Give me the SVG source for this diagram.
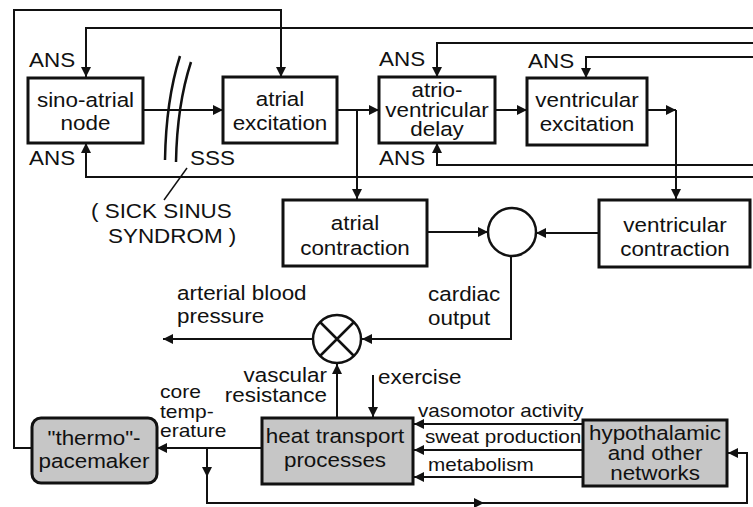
<svg xmlns="http://www.w3.org/2000/svg" width="753" height="507" viewBox="0 0 753 507">
  <style>
    .box { fill: #ffffff; stroke: #111111; stroke-width: 3; }
    .gbox { fill: #c6c6c6; stroke: #111111; stroke-width: 3; }
    .wire { fill: none; stroke: #111111; stroke-width: 2; }
    .arr { marker-end: url(#ah); }
    .t { font-family: "Liberation Sans", Arial, sans-serif; font-size: 19.5px; fill: #111111; }
    .s { font-size: 18px; }
    .xs { font-size: 17.5px; }
    .c { text-anchor: middle; }
    .e { text-anchor: end; }
  </style>
  <defs>
    <marker id="ah" viewBox="0 0 10 10" refX="10" refY="5" markerWidth="12" markerHeight="10" markerUnits="userSpaceOnUse" orient="auto">
      <path d="M0,0 L10,5 L0,10 z" fill="#111111"/>
    </marker>
  </defs>
  <rect width="753" height="507" fill="#ffffff"/>

  <!-- connectors -->
  <g id="connectors">
    <path class="wire arr" d="M32,448 H14 V10 H281 V77"/>
    <path class="wire arr" d="M753,28 H86 V77"/>
    <path class="wire arr" d="M753,43 H437 V77"/>
    <path class="wire arr" d="M753,57 H586 V78"/>
    <path class="wire arr" d="M753,165 H437 V143"/>
    <path class="wire arr" d="M753,177 H86 V143"/>
    <path class="wire arr" d="M143,110 H223"/>
    <path class="wire arr" d="M337,110 H379"/>
    <path class="wire arr" d="M357,110 V199"/>
    <path class="wire arr" d="M495,110 H527"/>
    <path class="wire arr" d="M647,110 H676"/>
    <path class="wire arr" d="M676,110 V199"/>
    <path class="wire arr" d="M427,232 H488"/>
    <path class="wire arr" d="M599,233 H536"/>
    <path class="wire arr" d="M511,256 V339 H362"/>
    <path class="wire arr" d="M313,339 H163"/>
    <path class="wire" d="M412,424 H337"/>
    <path class="wire arr" d="M337,424 V364"/>
    <path class="wire arr" d="M373,375 V417"/>
    <path class="wire arr" d="M583,424 H414"/>
    <path class="wire arr" d="M583,450 H414"/>
    <path class="wire arr" d="M583,477 H414"/>
    <path class="wire arr" d="M262,448 H157"/>
    <path class="wire arr" d="M207,448 V477"/>
    <path class="wire arr" d="M207,470 V503 H484"/>
    <path class="wire arr" d="M480,503 H747 V453 H728"/>
    <!-- sick sinus block marks and leader -->
    <path class="wire" style="stroke-width:2.5" d="M180,56 Q166,100 165,160"/>
    <path class="wire" style="stroke-width:2.5" d="M191,62 Q177,105 176,162"/>
    <path class="wire" style="stroke-width:1.5" d="M187,168 L164,200"/>
  </g>

  <g id="sino-atrial-node">
    <rect class="box" x="28" y="78" width="115" height="65"/>
    <text class="t c" transform="translate(85.5 107) scale(1.15 1)">sino-atrial<tspan x="0" dy="23.5">node</tspan></text>
  </g>
  <g id="atrial-excitation">
    <rect class="box" x="223" y="77" width="114" height="66"/>
    <text class="t c" transform="translate(280 106) scale(1.15 1)">atrial<tspan x="0" dy="24">excitation</tspan></text>
  </g>
  <g id="av-delay">
    <rect class="box" x="379" y="77" width="116" height="66"/>
    <text class="t c" transform="translate(437 97) scale(1.15 1)">atrio-<tspan x="0" dy="20">ventricular</tspan><tspan x="0" dy="19.5">delay</tspan></text>
  </g>
  <g id="ventricular-excitation">
    <rect class="box" x="527" y="78" width="120" height="67"/>
    <text class="t c" transform="translate(587 107) scale(1.15 1)">ventricular<tspan x="0" dy="24">excitation</tspan></text>
  </g>
  <g id="atrial-contraction">
    <rect class="box" x="283" y="200" width="144" height="66"/>
    <text class="t c" transform="translate(355 230) scale(1.15 1)">atrial<tspan x="0" dy="25">contraction</tspan></text>
  </g>
  <g id="ventricular-contraction">
    <rect class="box" x="599" y="200" width="151" height="67"/>
    <text class="t c" transform="translate(675 232) scale(1.15 1)">ventricular<tspan x="0" dy="24">contraction</tspan></text>
  </g>
  <g id="sum-junction">
    <circle cx="512" cy="232" r="24" fill="#ffffff" stroke="#111111" stroke-width="2.5"/>
  </g>
  <g id="product-junction">
    <circle cx="337" cy="339" r="24" fill="#ffffff" stroke="#111111" stroke-width="2.5"/>
    <path d="M320,322 L354,356 M354,322 L320,356" stroke="#111111" stroke-width="2.5"/>
  </g>
  <g id="thermo-pacemaker">
    <rect class="gbox" x="32" y="418" width="125" height="65" rx="9"/>
    <text class="t c" transform="translate(94 445) scale(1.15 1)">"thermo"-<tspan x="0" dy="23">pacemaker</tspan></text>
  </g>
  <g id="heat-transport">
    <rect class="gbox" x="262" y="418" width="151" height="66"/>
    <text class="t c" transform="translate(335 443) scale(1.15 1)">heat transport<tspan x="0" dy="24">processes</tspan></text>
  </g>
  <g id="hypothalamic-networks">
    <rect class="gbox" x="583" y="420" width="144" height="66"/>
    <text class="t c" transform="translate(655 440) scale(1.15 1)">hypothalamic<tspan x="0" dy="20">and other</tspan><tspan x="0" dy="20">networks</tspan></text>
  </g>

  <g id="labels">
    <text class="t" transform="translate(29 67) scale(1.15 1)">ANS</text>
    <text class="t" transform="translate(29 165) scale(1.15 1)">ANS</text>
    <text class="t" transform="translate(379 66) scale(1.15 1)">ANS</text>
    <text class="t" transform="translate(379 165) scale(1.15 1)">ANS</text>
    <text class="t" transform="translate(528 68) scale(1.15 1)">ANS</text>
    <text class="t" transform="translate(190 165) scale(1.15 1)">SSS</text>
    <text class="t" transform="translate(91 218) scale(1.15 1)">( SICK SINUS</text>
    <text class="t" transform="translate(108 243) scale(1.15 1)">SYNDROM )</text>
    <text class="t" transform="translate(177 300) scale(1.15 1)">arterial blood<tspan x="0" dy="23">pressure</tspan></text>
    <text class="t" transform="translate(428 301) scale(1.15 1)">cardiac<tspan x="0" dy="24">output</tspan></text>
    <text class="t e" transform="translate(327 382) scale(1.15 1)">vascular<tspan x="0" dy="20">resistance</tspan></text>
    <text class="t" transform="translate(378 384) scale(1.15 1)">exercise</text>
    <text class="t xs" transform="translate(160 398) scale(1.2 1)">core<tspan x="0" dy="19.6">temp-</tspan><tspan x="0" dy="19.6">erature</tspan></text>
    <text class="t s" transform="translate(418 417) scale(1.15 1)">vasomotor activity</text>
    <text class="t s" transform="translate(425 443) scale(1.15 1)">sweat production</text>
    <text class="t s" transform="translate(428 471) scale(1.15 1)">metabolism</text>
  </g>
</svg>
